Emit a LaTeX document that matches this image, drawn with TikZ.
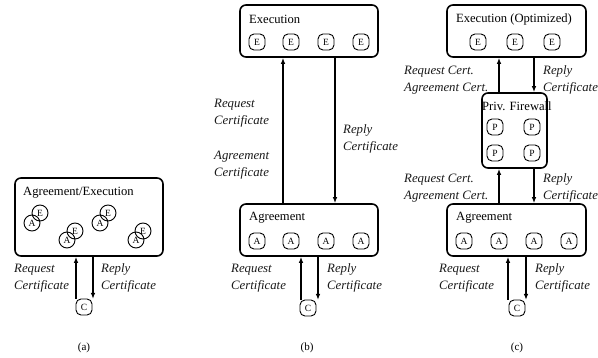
\documentclass[tikz,border=0pt]{standalone}
\usepackage{fontspec}
\setmainfont{Liberation Serif}
\usetikzlibrary{arrows.meta}
\begin{document}
\begin{tikzpicture}[x=1pt,y=-1pt,
  bigbox/.style={draw,line width=1.6pt,rounded corners=6pt},
  rep/.style={draw,line width=0.9pt,rounded corners=5pt,minimum width=16pt,minimum height=16pt,inner sep=0pt,font=\fontsize{9.5}{10}\selectfont},
  ring/.style={draw,line width=0.9pt,circle,minimum size=16pt,inner sep=0pt,font=\fontsize{9.5}{10}\selectfont},
  boxtitle/.style={font=\fontsize{12.6}{14}\selectfont,inner sep=0pt},
  lbl/.style={font=\fontsize{12.8}{17}\selectfont\itshape,text=black!90,inner sep=0pt,align=left},
  arr/.style={line width=1.4pt,-{Latex[length=6pt,width=4.5pt]}},
  sublabel/.style={font=\fontsize{11}{12}\selectfont,inner sep=0pt}]
\useasboundingbox (0,0) rectangle (598,358);

% ---------- (a)
\node[bigbox,minimum width=148pt,minimum height=78pt] (ae) at (89,217) {};
\node[boxtitle,anchor=west] (aet) at (23,193) {Agreement/Execution};
\node[ring] (a1) at (32,223) {A};
\node[ring] (e1) at (40,213) {E};
\node[ring] (a2) at (67,240) {A};
\node[ring] (e2) at (75,231) {E};
\node[ring] (a3) at (100,223) {A};
\node[ring] (e3) at (108,213) {E};
\node[ring] (a4) at (136,240) {A};
\node[ring] (e4) at (143,231) {E};
\node[rep] (ca) at (84,307) {C};
\coordinate (ca1) at (76,299);
\coordinate (ca2) at (93,299);
\draw[arr] (ca1) -- (ca1 |- ae.south);
\draw[arr] (ca2 |- ae.south) -- (ca2);
\node[lbl,anchor=west] (la) at (14,278) {Request\\Certificate};
\node[lbl,anchor=west] (ra) at (101,278) {Reply\\Certificate};
\node[sublabel] (capa) at (84,348) {(a)};

% ---------- (b)
\node[bigbox,minimum width=138pt,minimum height=52pt] (exb) at (309,31) {};
\node[boxtitle,anchor=west] (exbt) at (249,19) {Execution};
\node[rep] (eb1) at (257,42) {E};
\node[rep] (eb2) at (291,42) {E};
\node[rep] (eb3) at (326,42) {E};
\node[rep] (eb4) at (361,42) {E};
\node[bigbox,minimum width=138pt,minimum height=52pt] (agb) at (309,230) {};
\node[boxtitle,anchor=west] (agbt) at (249,218) {Agreement};
\node[rep] (ab1) at (257,241) {A};
\node[rep] (ab2) at (291,241) {A};
\node[rep] (ab3) at (326,241) {A};
\node[rep] (ab4) at (361,241) {A};
\coordinate (bu) at (283,130);
\coordinate (bd) at (335,130);
\draw[arr] (bu |- agb.north) -- (bu |- exb.south);
\draw[arr] (bd |- exb.south) -- (bd |- agb.north);
\node[lbl,anchor=west] (lb1) at (214,113) {Request\\Certificate};
\node[lbl,anchor=west] (lb2) at (214,165) {Agreement\\Certificate};
\node[lbl,anchor=west] (rb1) at (343,139) {Reply\\Certificate};
\node[rep] (cb) at (308,308) {C};
\coordinate (cb1) at (301,300);
\coordinate (cb2) at (318,300);
\draw[arr] (cb1) -- (cb1 |- agb.south);
\draw[arr] (cb2 |- agb.south) -- (cb2);
\node[lbl,anchor=west] (lb3) at (231,278) {Request\\Certificate};
\node[lbl,anchor=west] (rb3) at (327,278) {Reply\\Certificate};
\node[sublabel] (capb) at (307,348) {(b)};

% ---------- (c)
\node[bigbox,minimum width=139pt,minimum height=52pt] (exc) at (516.5,31) {};
\node[boxtitle] (exct) at (514,19) {Execution (Optimized)};
\node[rep] (ec1) at (478,42) {E};
\node[rep] (ec2) at (515,42) {E};
\node[rep] (ec3) at (552,42) {E};
\node[bigbox,minimum width=65pt,minimum height=75pt] (fw) at (514.5,130.5) {};
\node[boxtitle,anchor=west] (fwt) at (482,106) {Priv. Firewall};
\node[rep] (p1) at (495,127) {P};
\node[rep] (p2) at (532,127) {P};
\node[rep] (p3) at (495,153) {P};
\node[rep] (p4) at (532,153) {P};
\node[bigbox,minimum width=139pt,minimum height=52pt] (agc) at (516.5,230) {};
\node[boxtitle,anchor=west] (agct) at (456,218) {Agreement};
\node[rep] (ac1) at (464,241) {A};
\node[rep] (ac2) at (499,241) {A};
\node[rep] (ac3) at (534,241) {A};
\node[rep] (ac4) at (569,241) {A};
\coordinate (cu) at (499,75);
\coordinate (cd) at (534,75);
\draw[arr] (cu |- fw.north) -- (cu |- exc.south);
\draw[arr] (cd |- exc.south) -- (cd |- fw.north);
\draw[arr] (cu |- agc.north) -- (cu |- fw.south);
\draw[arr] (cd |- fw.south) -- (cd |- agc.north);
\node[lbl,anchor=west] (lc1) at (404,80) {Request Cert.\\Agreement Cert.};
\node[lbl,anchor=west] (rc1) at (543,80) {Reply\\Certificate};
\node[lbl,anchor=west] (lc2) at (404,188) {Request Cert.\\Agreement Cert.};
\node[lbl,anchor=west] (rc2) at (543,188) {Reply\\Certificate};
\node[rep] (cc) at (517,308) {C};
\coordinate (cc1) at (508,300);
\coordinate (cc2) at (526,300);
\draw[arr] (cc1) -- (cc1 |- agc.south);
\draw[arr] (cc2 |- agc.south) -- (cc2);
\node[lbl,anchor=west] (lc3) at (439,278) {Request\\Certificate};
\node[lbl,anchor=west] (rc3) at (535,278) {Reply\\Certificate};
\node[sublabel] (capc) at (517,348) {(c)};
\end{tikzpicture}
\end{document}
